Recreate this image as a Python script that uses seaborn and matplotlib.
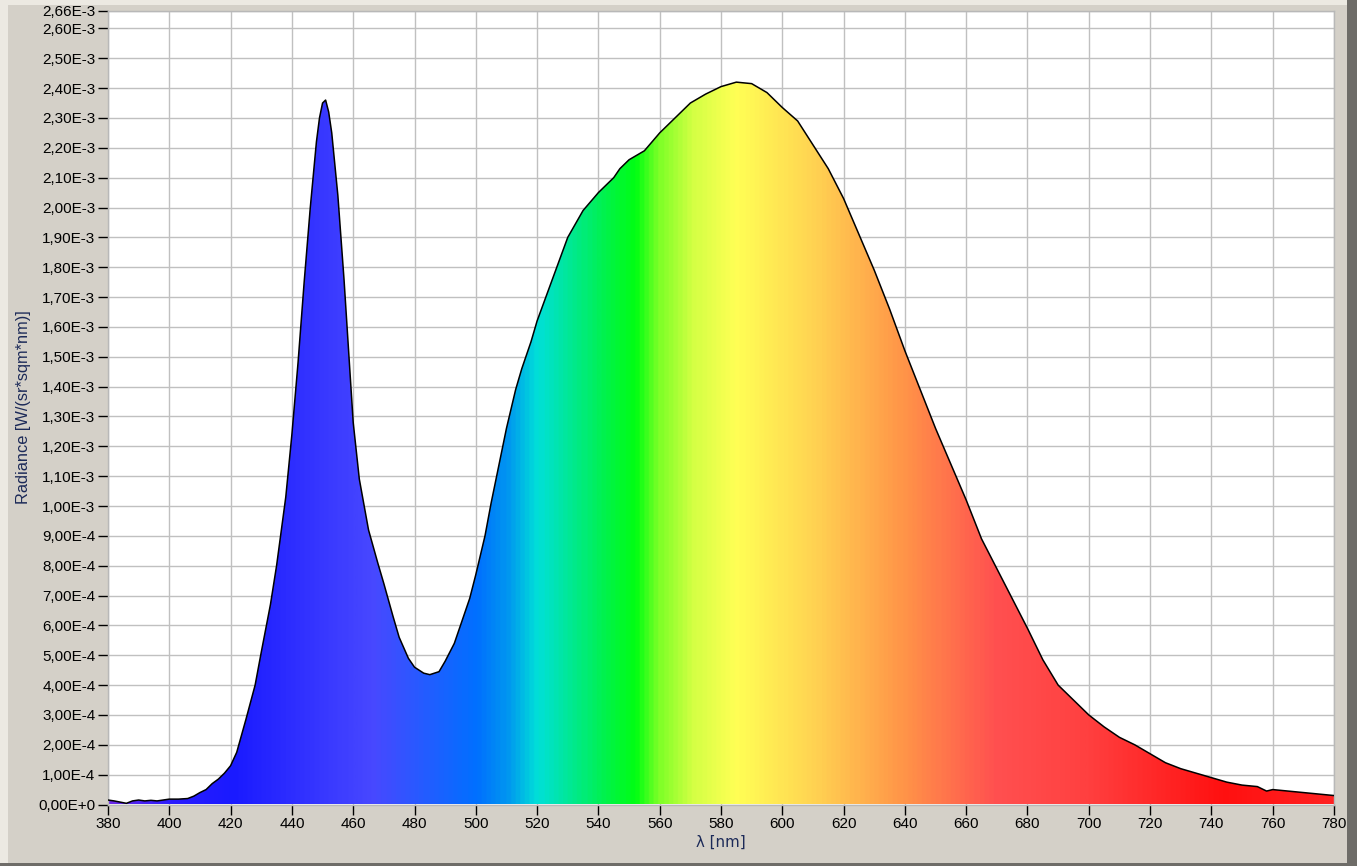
import numpy as np
import pandas as pd
import matplotlib
matplotlib.use("Agg")
import matplotlib.pyplot as plt
import seaborn as sns
from matplotlib.colors import LinearSegmentedColormap
from matplotlib.ticker import FixedLocator, FuncFormatter
from matplotlib.patches import Rectangle

# ---- data (wavelength nm, radiance in units of 1E-4 W/(sr*sqm*nm)) ----
wavelength = [380, 382, 384, 386, 388, 390, 392, 394, 396, 398, 400, 403, 406, 408, 410,
              412, 414, 416, 418, 420, 422, 425, 428, 430, 433, 435, 438, 440, 442, 444,
              446, 448, 449, 450, 451, 452, 453, 455, 457, 458, 460, 462, 465, 468, 470,
              473, 475, 478, 480, 483, 485, 488, 490, 493, 495, 498, 500, 503, 505, 508,
              510, 513, 515, 518, 520, 525, 530, 535, 540, 545, 547, 550, 555, 560, 565, 570,
              575, 580, 585, 590, 595, 600, 605, 610, 615, 620, 625, 630, 635, 640, 645,
              650, 655, 660, 665, 670, 675, 680, 685, 690, 695, 700, 705, 710, 715, 720,
              725, 730, 735, 740, 745, 750, 755, 758, 760, 765, 770, 775, 780]
radiance = [0.15, 0.12, 0.08, 0.04, 0.12, 0.15, 0.12, 0.14, 0.12, 0.15, 0.18, 0.18, 0.2, 0.28, 0.4,
            0.5, 0.7, 0.85, 1.05, 1.3, 1.75, 2.85, 4.0, 5.1, 6.7, 8.0, 10.3, 12.4, 14.8, 17.5,
            20.0, 22.2, 23.0, 23.5, 23.6, 23.2, 22.5, 20.4, 17.6, 16.0, 12.8, 10.9, 9.2, 8.1, 7.4,
            6.3, 5.6, 4.9, 4.6, 4.4, 4.35, 4.45, 4.8, 5.4, 6.0, 6.9, 7.7, 9.0, 10.1, 11.6,
            12.6, 13.9, 14.6, 15.5, 16.2, 17.6, 19.0, 19.9, 20.5, 21.0, 21.3, 21.6, 21.9, 22.5, 23.0, 23.5,
            23.8, 24.05, 24.2, 24.15, 23.85, 23.35, 22.9, 22.1, 21.3, 20.3, 19.1, 17.9, 16.6, 15.2, 13.9,
            12.6, 11.4, 10.2, 8.9, 7.9, 6.9, 5.9, 4.85, 4.0, 3.5, 3.0, 2.6, 2.25, 2.0, 1.7,
            1.4, 1.2, 1.05, 0.9, 0.75, 0.65, 0.6, 0.45, 0.5, 0.45, 0.4, 0.35, 0.3]

x_ticks = list(range(380, 781, 20))
y_ticks = [i * 1e-4 for i in range(0, 27)] + [2.66e-3]

# spectral colour stops (nm, colour)
stop_nm = [380, 400, 420, 466, 500, 510, 520, 530, 540, 552, 560, 571, 585, 610, 640, 670, 700, 745, 780]
stop_col = ["#6a28e8", "#2a1cff", "#1a1aff", "#4848ff", "#0070ff", "#0096f0", "#00e0d8",
            "#00e898", "#00f058", "#00ff12", "#80ff28", "#d4ff44", "#ffff55", "#ffd452",
            "#ff9448", "#ff5050", "#ff4040", "#ff1010", "#ff2222"]

df = pd.DataFrame({"wl": wavelength, "rad": np.array(radiance) * 1e-4})

# ---- figure ----
BG = "#d4d0c8"
fig = plt.figure(figsize=(13.57, 8.66), dpi=100, facecolor=BG)
ax = fig.add_axes([108 / 1357, (866 - 804.5) / 866, (1334 - 108) / 1357, (804.5 - 10.5) / 866])
ax.set_facecolor("white")

xmin, xmax = 380, 780
ymax = 2.66e-3

# gradient fill clipped to the area under the curve
poly = ax.fill_between(df["wl"], df["rad"], 0, color="none", lw=0)
norm_pos = [(n - xmin) / (xmax - xmin) for n in stop_nm]
cmap = LinearSegmentedColormap.from_list("spec", list(zip(norm_pos, stop_col)))
grad = np.linspace(0, 1, 800).reshape(1, -1)
im = ax.imshow(grad, cmap=cmap, aspect="auto", extent=[xmin, xmax, 0, ymax],
               origin="lower", interpolation="bilinear", zorder=2)
clip = poly.get_paths()[0]
im.set_clip_path(clip, transform=ax.transData)

sns.lineplot(data=df, x="wl", y="rad", ax=ax, color="black", lw=1.1, zorder=3)

ax.set_xlim(xmin, xmax)
ax.set_ylim(0, ymax)
ax.xaxis.set_major_locator(FixedLocator(x_ticks))
ax.yaxis.set_major_locator(FixedLocator(y_ticks))


def yfmt(v, pos):
    if abs(v) < 1e-12:
        return "0,00E+0"
    e = int(np.floor(np.log10(abs(v)) + 1e-9))
    m = v / 10 ** e
    return f"{m:.2f}".replace(".", ",") + f"E{e}"


ax.yaxis.set_major_formatter(FuncFormatter(yfmt))
ax.grid(True, color="#c0c0c0", lw=1, zorder=1)
ax.set_axisbelow(True)
for s in ax.spines.values():
    s.set_color("#b8b8b8")
    s.set_linewidth(1)
ax.tick_params(axis="both", direction="out", length=7, width=1, color="black",
               labelsize=11, labelcolor="black", pad=2)
for lab in ax.get_xticklabels() + ax.get_yticklabels():
    lab.set_fontfamily("Liberation Sans")

ax.set_xlabel("λ [nm]", fontsize=10.8, color="#1c2a58", family="DejaVu Sans", labelpad=3)
ax.set_ylabel("Radiance [W/(sr*sqm*nm)]", fontsize=11.8, color="#1c2a58",
              family="Liberation Sans", labelpad=5)

# window frame decoration
fig.patches.append(Rectangle((0, 0), 8 / 1357, 1, transform=fig.transFigure,
                             facecolor="#ece9e2", edgecolor="none", zorder=-1))
fig.patches.append(Rectangle((0, 1 - 5 / 866), 1, 5 / 866, transform=fig.transFigure,
                             facecolor="#ece9e2", edgecolor="none", zorder=-1))
fig.patches.append(Rectangle((1 - 10 / 1357, 0), 10 / 1357, 1, transform=fig.transFigure,
                             facecolor="#6e6c68", edgecolor="none", zorder=-1))
fig.patches.append(Rectangle((0, 0), 1, 3 / 866, transform=fig.transFigure,
                             facecolor="#6e6c68", edgecolor="none", zorder=-1))

fig.savefig("out.png", dpi=100, facecolor=BG)
